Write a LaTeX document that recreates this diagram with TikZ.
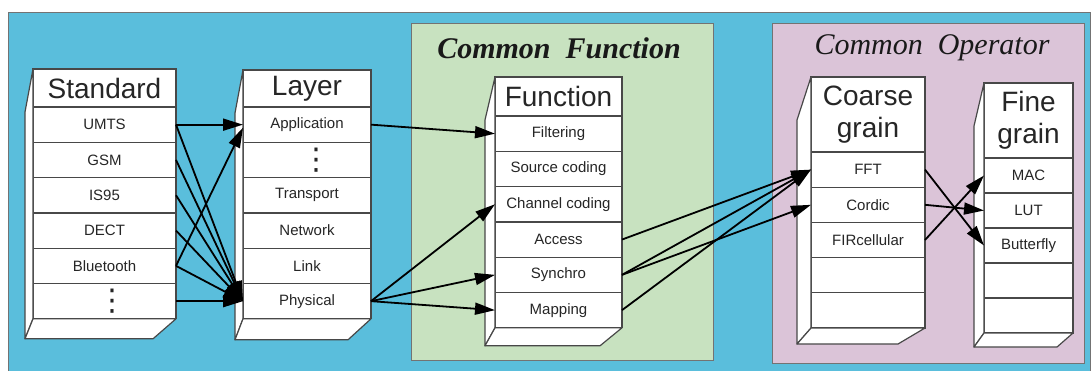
\documentclass[tikz,border=0pt]{standalone}
\usepackage{fontspec}
\setmainfont{Liberation Serif}
\setsansfont{Liberation Sans}
\newfontfamily\symfont{DejaVu Sans}
\usepackage{tikz}
\usetikzlibrary{positioning, arrows.meta, calc}
\definecolor{panelblue}{RGB}{90,190,220}
\definecolor{funcgreen}{RGB}{200,226,192}
\definecolor{operpink}{RGB}{219,196,216}
\definecolor{edgegray}{RGB}{72,72,72}
\newcommand{\rowfont}{\sffamily\fontsize{15}{18}\selectfont}
\newcommand{\headfont}{\sffamily\fontsize{28}{32}\selectfont}
\newcommand{\stackdots}{{\symfont\fontsize{30}{30}\selectfont ⋮}}

\begin{document}
\begin{tikzpicture}[
    x=1pt, y=-1pt,
    cell/.style={draw=edgegray, line width=1.2pt, fill=white, inner sep=0pt, outer sep=0pt, minimum width=#1, minimum height=35.3pt, font=\rowfont, text=black!85},
    head/.style={cell=#1, font=\headfont, align=center},
    face/.style={draw=edgegray, line width=1.2pt, fill=white, line join=round},
    panel/.style={draw=black!55, line width=1pt},
    title/.style={font=\fontsize{30}{34}\selectfont\bfseries\itshape, text=black!90},
    arrow/.style={-{Triangle[length=20pt, width=12pt]}, line width=1.8pt},
]
\useasboundingbox (0,0) rectangle (1092,370);
% background panels
\draw[panel, fill=panelblue] (8,12) rectangle (1090,375);
\draw[panel, fill=funcgreen] (411,23) rectangle (713,360);
\draw[panel, fill=operpink] (772,23) rectangle (1084,363);
\node[title] (cftitle) at (559,48) {Common\ \ Function};
\node[title, font=\fontsize{30}{34}\selectfont\itshape] (cotitle) at (932,48) {Common\ \ Operator};

% Standard column
\node[head=143pt, minimum height=38pt, anchor=north west] (std) at (33,69) {Standard};
\node[cell=143pt, below=0pt of std] (umts) {UMTS};
\node[cell=143pt, below=0pt of umts] (gsm) {GSM};
\node[cell=143pt, below=0pt of gsm] (is95) {IS95};
\node[cell=143pt, below=0pt of is95] (dect) {DECT};
\node[cell=143pt, below=0pt of dect] (blue) {Bluetooth};
\node[cell=143pt, below=0pt of blue] (sdots) {\kern16pt\stackdots};

% Layer column
\node[head=128pt, minimum height=37pt, anchor=north west] (lay) at (243,70) {Layer};
\node[cell=128pt, below=0pt of lay] (app) {Application};
\node[cell=128pt, below=0pt of app] (ldots) {\kern18pt\stackdots};
\node[cell=128pt, below=0pt of ldots] (trans) {Transport};
\node[cell=128pt, below=0pt of trans] (net) {Network};
\node[cell=128pt, below=0pt of net] (link) {Link};
\node[cell=128pt, below=0pt of link] (phys) {Physical};

% Function column
\node[head=127pt, minimum height=39pt, anchor=north west] (func) at (495,77) {Function};
\node[cell=127pt, below=0pt of func] (filt) {Filtering};
\node[cell=127pt, below=0pt of filt] (src) {Source coding};
\node[cell=127pt, below=0pt of src] (chan) {Channel coding};
\node[cell=127pt, below=0pt of chan] (access) {Access};
\node[cell=127pt, below=0pt of access] (sync) {Synchro};
\node[cell=127pt, below=0pt of sync] (map) {Mapping};

% Coarse grain column
\node[head=114pt, minimum height=75pt, anchor=north west] (coarse) at (811,77) {Coarse\\grain};
\node[cell=114pt, minimum height=35.2pt, below=0pt of coarse] (fft) {FFT};
\node[cell=114pt, minimum height=35.2pt, below=0pt of fft] (cordic) {Cordic};
\node[cell=114pt, minimum height=35.2pt, below=0pt of cordic] (fir) {FIRcellular};
\node[cell=114pt, minimum height=35.2pt, below=0pt of fir] (cblank) {};
\node[cell=114pt, minimum height=35.2pt, below=0pt of cblank] (cend) {};

% Fine grain column
\node[head=89pt, minimum height=75pt, anchor=north west] (fine) at (984,83) {Fine\\grain};
\node[cell=89pt, minimum height=35pt, below=0pt of fine] (mac) {MAC};
\node[cell=89pt, minimum height=35pt, below=0pt of mac] (lut) {LUT};
\node[cell=89pt, minimum height=35pt, below=0pt of lut] (bfly) {Butterfly};
\node[cell=89pt, minimum height=35pt, below=0pt of bfly] (fblank) {};
\node[cell=89pt, minimum height=35pt, below=0pt of fblank] (fend) {};

% side and bottom faces of the columns
\foreach \top/\bot/\dx/\dy/\rx in {std/sdots/-8/20/-23, lay/phys/-8/21/-23, func/map/-10/18/-22, coarse/cend/-14/16/-27, fine/fend/-10/14/-16} {
    \draw[face] (\top.north west) -- ++(\dx,43) -- ($(\bot.south west)+(\dx,\dy)$) -- (\bot.south west) -- cycle;
    \draw[face] (\bot.south west) -- (\bot.south east) -- ++(\rx,\dy) -- ($(\bot.south west)+(\dx,\dy)$) -- cycle;
}

% Standard -> Layer
\draw[arrow] (umts.east) -- (app.west);
\draw[arrow] (blue.east) -- ([yshift=-3pt]app.west);
\draw[arrow] (umts.east) -- (phys.west);
\draw[arrow] (gsm.east) -- (phys.west);
\draw[arrow] (is95.east) -- (phys.west);
\draw[arrow] (dect.east) -- (phys.west);
\draw[arrow] (blue.east) -- (phys.west);
\draw[arrow] (sdots.east) -- (phys.west);

% Layer -> Function
\draw[arrow] (app.east) -- (filt.west);
\draw[arrow] (phys.east) -- (chan.west);
\draw[arrow] (phys.east) -- (sync.west);
\draw[arrow] (phys.east) -- (map.west);

% Function -> Coarse grain
\draw[arrow] (access.east) -- (fft.west);
\draw[arrow] (sync.east) -- (fft.west);
\draw[arrow] (map.east) -- (fft.west);
\draw[arrow] (sync.east) -- (cordic.west);

% Coarse grain -> Fine grain
\draw[arrow] (fft.east) -- (bfly.west);
\draw[arrow] (cordic.east) -- (lut.west);
\draw[arrow] (fir.east) -- (mac.west);
\end{tikzpicture}
\end{document}
